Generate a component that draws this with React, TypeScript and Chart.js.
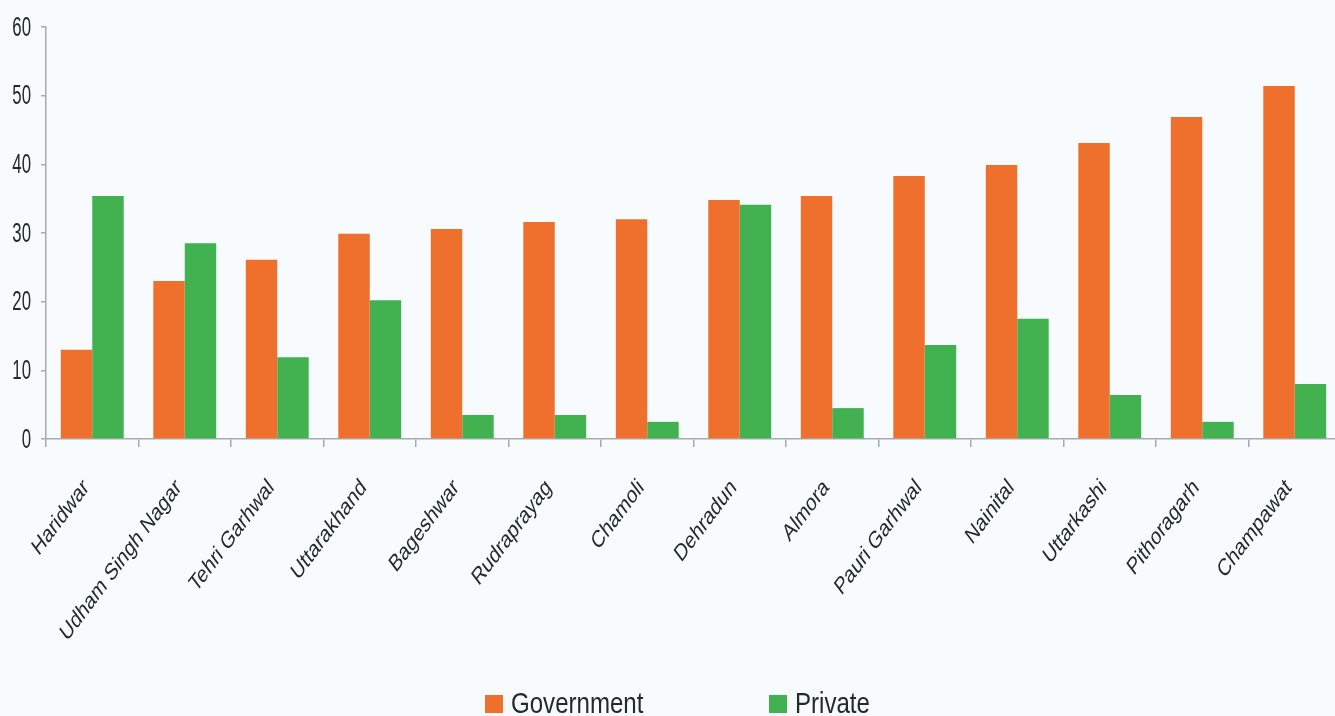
import React, { useEffect, useRef } from "react";
import { Chart, registerables } from "chart.js";

Chart.register(...registerables);

const districts = [
  "Haridwar",
  "Udham Singh Nagar",
  "Tehri Garhwal",
  "Uttarakhand",
  "Bageshwar",
  "Rudraprayag",
  "Chamoli",
  "Dehradun",
  "Almora",
  "Pauri Garhwal",
  "Nainital",
  "Uttarkashi",
  "Pithoragarh",
  "Champawat",
];
const governmentValues = [13.0, 23.0, 26.1, 29.9, 30.6, 31.6, 32.0, 34.8, 35.4, 38.3, 39.9, 43.1, 46.9, 51.4];
const privateValues = [35.4, 28.5, 11.9, 20.2, 3.5, 3.5, 2.5, 34.1, 4.5, 13.7, 17.5, 6.4, 2.5, 8.0];
const yTicks = [0, 10, 20, 30, 40, 50, 60];

const ORANGE = "#EF6F2C";
const GREEN = "#41B24F";
const BG = "#F7FBFE";
const TEXT = "#222A2E";
const AXIS = "#A7ABAF";
const FONT = '"Liberation Sans", Arial, sans-serif';

const bgPlugin = {
  id: "bgFill",
  beforeDraw(chart: any) {
    const { ctx, width, height } = chart;
    ctx.save();
    ctx.fillStyle = BG;
    ctx.fillRect(0, 0, width, height);
    ctx.restore();
  },
};

// Draws tick labels with the condensed / stretched look of the original,
// positioned from the chart's own scales.
const tickLabelPlugin = {
  id: "tickLabels",
  afterDraw(chart: any) {
    const { ctx } = chart;
    const xs = chart.scales.x;
    const ys = chart.scales.y;
    ctx.save();
    ctx.fillStyle = TEXT;

    // y labels
    ctx.font = `28px ${FONT}`;
    ctx.textAlign = "right";
    ctx.textBaseline = "middle";
    ys.ticks.forEach((t: any) => {
      const py = ys.getPixelForValue(t.value);
      ctx.save();
      ctx.translate(31, py + 1);
      ctx.scale(0.6, 1);
      ctx.fillText(String(t.value), 0, 0);
      ctx.restore();
    });

    // x labels
    ctx.font = `18px ${FONT}`;
    ctx.textAlign = "right";
    ctx.textBaseline = "middle";
    chart.data.labels.forEach((lab: string, i: number) => {
      const px = xs.getPixelForValue(i);
      ctx.save();
      ctx.translate(px - 6, xs.top + 45);
      ctx.scale(1, 1.33);
      ctx.rotate(-Math.PI / 4);
      ctx.fillText(lab, 0, 0);
      ctx.restore();
    });
    ctx.restore();
  },
};

const legendPlugin = {
  id: "customLegend",
  afterDraw(chart: any) {
    const { ctx } = chart;
    const items = [
      { x: 485, ds: chart.data.datasets[0] },
      { x: 769, ds: chart.data.datasets[1] },
    ];
    ctx.save();
    ctx.font = `29px ${FONT}`;
    ctx.textBaseline = "alphabetic";
    ctx.textAlign = "left";
    for (const it of items) {
      ctx.fillStyle = it.ds.backgroundColor;
      ctx.fillRect(it.x, 695, 18, 18);
      ctx.fillStyle = TEXT;
      ctx.save();
      ctx.translate(it.x + 26, 713);
      ctx.scale(0.83, 1);
      ctx.fillText(it.ds.label, 0, 0);
      ctx.restore();
    }
    ctx.restore();
  },
};

export default function App() {
  const canvasRef = useRef<HTMLCanvasElement | null>(null);

  useEffect(() => {
    document.body.style.margin = "0";
    document.body.style.background = BG;
    const canvas = canvasRef.current;
    if (!canvas) return;
    const chart = new Chart(canvas, {
      type: "bar",
      data: {
        labels: districts,
        datasets: [
          {
            label: "Government",
            data: governmentValues,
            backgroundColor: ORANGE,
            borderWidth: 0,
            categoryPercentage: 0.68,
            barPercentage: 1.0,
          },
          {
            label: "Private",
            data: privateValues,
            backgroundColor: GREEN,
            borderWidth: 0,
            categoryPercentage: 0.68,
            barPercentage: 1.0,
          },
        ],
      },
      options: {
        animation: false,
        responsive: false,
        maintainAspectRatio: false,
        layout: { padding: { top: 27, right: 0, bottom: 0, left: 0 } },
        plugins: {
          legend: { display: false },
          tooltip: { enabled: false },
          title: { display: false },
        },
        scales: {
          x: {
            grid: {
              display: true,
              drawOnChartArea: false,
              drawTicks: true,
              tickLength: 8,
              color: AXIS,
              lineWidth: 1.5,
            },
            border: { display: true, color: AXIS, width: 1.5 },
            ticks: { display: false, autoSkip: false },
            afterFit(scale: any) {
              scale.height = 277;
            },
          },
          y: {
            min: 0,
            max: 60,
            afterBuildTicks(scale: any) {
              scale.ticks = yTicks.map((v) => ({ value: v }));
            },
            grid: {
              display: true,
              drawOnChartArea: false,
              drawTicks: true,
              tickLength: 5,
              color: AXIS,
              lineWidth: 1.5,
            },
            border: { display: true, color: AXIS, width: 1.5 },
            ticks: { display: false },
            afterFit(scale: any) {
              scale.width = 46;
            },
          },
        },
      },
      plugins: [bgPlugin, tickLabelPlugin, legendPlugin],
    } as any);
    return () => chart.destroy();
  }, []);

  return (
    <div style={{ position: "absolute", left: 0, top: 0, width: 1335, height: 716, background: BG, overflow: "hidden" }}>
      <canvas ref={canvasRef} width={1341} height={716} style={{ display: "block", width: 1341, height: 716 }} />
    </div>
  );
}
